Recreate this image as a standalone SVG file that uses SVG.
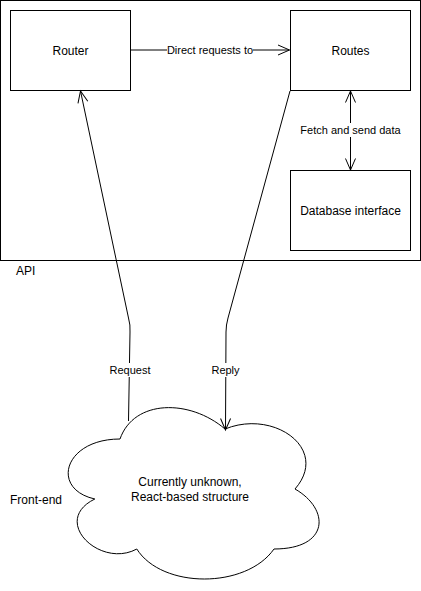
<svg xmlns="http://www.w3.org/2000/svg" width="421" height="591" viewBox="0 0 421 591">
<style>
.box{fill:#fff;stroke:#000;stroke-width:1}
.edge{fill:none;stroke:#000;stroke-width:1}
.t12{font-family:"Liberation Sans",Arial,sans-serif;font-size:12px;fill:#000}
.t11{font-family:"Liberation Sans",Arial,sans-serif;font-size:11px;fill:#000}
.lbl{fill:#fff;stroke:none}
</style>
<defs>
<marker id="open" markerWidth="14" markerHeight="12" refX="12" refY="6" orient="auto" markerUnits="userSpaceOnUse">
<path d="M0.5,1 L12,6 L0.5,11" fill="none" stroke="#000" stroke-width="1"/>
</marker>
<marker id="openStart" markerWidth="14" markerHeight="12" refX="0" refY="6" orient="auto" markerUnits="userSpaceOnUse">
<path d="M11.5,1 L0,6 L11.5,11" fill="none" stroke="#000" stroke-width="1"/>
</marker>
</defs>
<rect width="421" height="591" fill="#fff"/>
<g id="api">
<rect class="box" x="0.5" y="0.5" width="420" height="260"/>
<text class="t12" x="16" y="275">API</text>
</g>
<g id="router">
<rect class="box" x="10.5" y="10.5" width="120" height="80"/>
<text class="t12" x="70.5" y="55" text-anchor="middle">Router</text>
</g>
<g id="routes">
<rect class="box" x="290.5" y="10.5" width="120" height="80"/>
<text class="t12" x="350.5" y="55" text-anchor="middle">Routes</text>
</g>
<g id="database">
<rect class="box" x="290.5" y="170.5" width="120" height="80"/>
<text class="t12" x="350.5" y="215" text-anchor="middle">Database interface</text>
</g>
<g id="frontend">
<path class="box" d="M120 439 C64 439,50 489,94.8 499 C50 521,100.4 569,136.8 549 C162 589,246 589,274 549 C330 549,330 509,295 489 C330 449,274 409,225 429 C190 399,134 399,120 439 Z"/>
<text class="t12" x="190" y="486" text-anchor="middle">Currently unknown,</text>
<text class="t12" x="190" y="501" text-anchor="middle">React-based structure</text>
<text class="t12" x="10" y="504">Front-end</text>
</g>
<g id="connectors">
<path class="edge" d="M130.5 50 L289.5 50" marker-end="url(#open)"/>
<rect class="lbl" x="167" y="43" width="86" height="14"/>
<text class="t11" x="210" y="54" text-anchor="middle">Direct requests to</text>
<path class="edge" d="M350.5 91 L350.5 170" marker-start="url(#openStart)" marker-end="url(#open)"/>
<rect class="lbl" x="299" y="123" width="103" height="14"/>
<text class="t11" x="350.5" y="134" text-anchor="middle">Fetch and send data</text>
<path class="edge" d="M128.5 421 L130 332 Q130.5 325 128.5 318 L80.5 91" marker-end="url(#open)"/>
<rect class="lbl" x="109" y="363" width="42" height="14"/>
<text class="t11" x="130" y="374" text-anchor="middle">Request</text>
<path class="edge" d="M290 91 L228 318 Q226 325 226 332 L225.5 430" marker-end="url(#open)"/>
<rect class="lbl" x="210" y="363" width="31" height="14"/>
<text class="t11" x="225.5" y="374" text-anchor="middle">Reply</text>
</g>
</svg>
